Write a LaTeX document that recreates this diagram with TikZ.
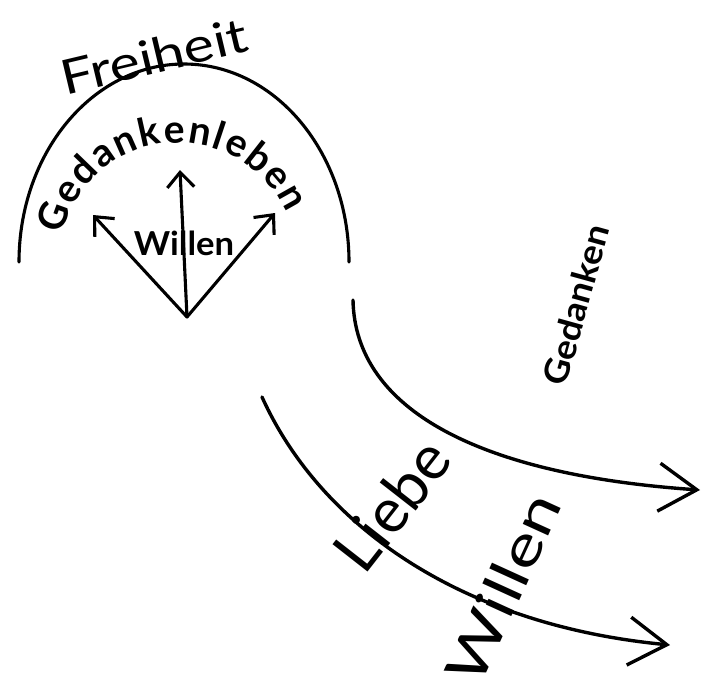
\documentclass[tikz,border=0pt]{standalone}
\usepackage{fontspec}
\setmainfont{Lato}
\usetikzlibrary{arrows.meta,decorations.text}
\begin{document}
\begin{tikzpicture}[x=1pt,y=1pt,
  ink/.style={line width=3.1pt, line cap=round, line join=round},
  thick ink/.style={line width=3.4pt, line cap=round, line join=round},
  smallhead/.style={-{Straight Barb[length=15pt,width=27pt,line width=3.1pt]}},
  bighead/.style={-{Straight Barb[length=38pt,width=48pt,line width=3.4pt]}},
  lbl/.style={inner sep=0pt},
]
\fill[white] (0,-688) rectangle (702,0);
\useasboundingbox (0,-688) rectangle (702,0);

% outer arc (Freiheit)
\coordinate (arcL) at (19,-262);
\draw[ink] (arcL) arc[start angle=180, end angle=0, x radius=165pt, y radius=198pt];

\node[lbl, anchor=base, rotate=13.4, font=\fontsize{48}{48}\selectfont, xscale=1.2] (freiheit) at (158,-73) {Freiheit};

% Gedankenleben along arc
\path[decorate, decoration={text along path,
  text={|\fontsize{39}{39}\selectfont\bfseries|Gedankenleben},
  text align={fit to path}}]
  (62.1,-235) arc[start angle=167, end angle=24, radius=119pt];

% inner arrows
\coordinate (O) at (187,-317);
\coordinate (tU) at (180,-170);
\coordinate (tL) at (93,-215);
\coordinate (tR) at (275,-213);
\draw[ink,smallhead] (O) -- (tU);
\draw[ink,smallhead] (O) -- (tL);
\draw[ink,smallhead] (O) -- (tR);
\node[lbl, font=\fontsize{33}{33}\selectfont\bfseries, xscale=1.05] (willenA) at (184,-243) {Willen};

% Gedanken curve
\coordinate (gS) at (353,-300);
\coordinate (gE) at (700,-490);
\draw[thick ink,bighead] (gS) .. controls (355,-410) and (480,-475) .. (gE);
\node[lbl, rotate=74.5, font=\fontsize{34}{34}\selectfont\bfseries, xscale=1.08] (gedanken) at (576,-305) {Gedanken};

% Willen curve
\coordinate (wS) at (262,-397);
\coordinate (wE) at (670,-645);
\draw[thick ink,bighead] (wS) .. controls (320,-525) and (460,-625) .. (wE);
\node[lbl, rotate=52, font=\fontsize{62}{62}\selectfont] (liebe) at (392,-505) {Liebe};
\node[lbl, rotate=65.5, font=\fontsize{55}{55}\selectfont, xscale=1.3] (willenB) at (503,-588) {Willen};
\end{tikzpicture}
\end{document}
